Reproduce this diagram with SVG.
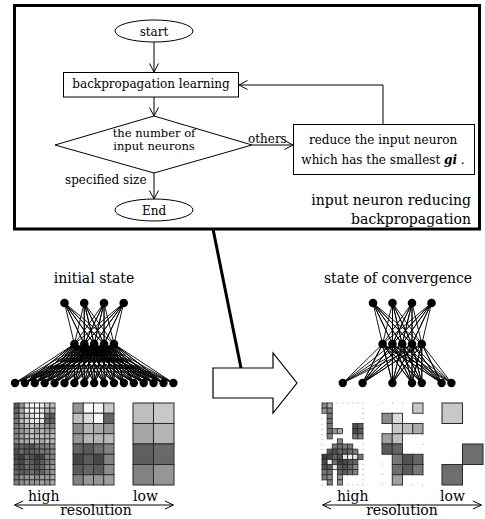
<svg xmlns="http://www.w3.org/2000/svg" width="485" height="519" viewBox="0 0 485 519">
<style>
text{font-family:"DejaVu Serif","Liberation Serif",serif;fill:#000}
.fc{font-size:12px}
.dt{font-size:11.5px}
.lb{font-size:14px}
.ln{fill:none;stroke:#000;stroke-width:1}
.net{fill:none;stroke:#000;stroke-width:0.9;stroke-linejoin:round}
.g1 rect{stroke:#2a2a2a;stroke-width:0.16}
.g2 rect{stroke:#2a2a2a;stroke-width:0.09}
.g3 rect{stroke:#2a2a2a;stroke-width:0.05}
.dot{fill:none;stroke:#888;stroke-width:0.9}
</style>
<defs>
<marker id="ah" viewBox="0 0 10 10" refX="9.5" refY="5" markerWidth="10" markerHeight="10" markerUnits="userSpaceOnUse" orient="auto">
<path d="M1,0.5 L9.5,5 L1,9.5" fill="none" stroke="#000" stroke-width="1"/>
</marker>
</defs>

<g id="frame">
<rect x="14.5" y="5.5" width="465" height="223.5" fill="#fff" stroke="#000" stroke-width="3"/>
</g>

<g id="start"><ellipse cx="154" cy="31" rx="39" ry="11" fill="#fff" stroke="#000"/><text class="fc" x="154" y="36" text-anchor="middle" font-size="13">start</text></g>
<g id="bp"><rect x="63.5" y="72.5" width="175" height="24.5" fill="#fff" stroke="#000"/><text class="fc" x="151" y="88" text-anchor="middle">backpropagation learning</text></g>
<g id="dec"><polygon points="154,116 252,145 154,173 55,145" fill="#fff" stroke="#000"/><text class="dt" x="154" y="137" text-anchor="middle">the number of</text><text class="dt" x="154" y="149.5" text-anchor="middle">input neurons</text></g>
<g id="reduce"><rect x="293.5" y="124.5" width="181" height="50" fill="#fff" stroke="#000"/><text class="fc" x="383" y="144" text-anchor="middle">reduce the input neuron</text><text class="fc" x="383" y="164" text-anchor="middle">which has the smallest <tspan font-weight="bold" font-style="italic">gi</tspan> .</text></g>
<g id="end"><ellipse cx="154" cy="210" rx="39" ry="11" fill="#fff" stroke="#000"/><text class="fc" x="154" y="215" text-anchor="middle" font-size="13">End</text></g>
<g id="title"><text class="lb" x="471" y="205" text-anchor="end">input neuron reducing</text><text class="lb" x="471" y="224" text-anchor="end">backpropagation</text></g>

<g id="connectors">
<line class="ln" x1="154" y1="42" x2="154" y2="72" marker-end="url(#ah)"/>
<line class="ln" x1="154" y1="97" x2="154" y2="116" marker-end="url(#ah)"/>
<line class="ln" x1="154" y1="173" x2="154" y2="199" marker-end="url(#ah)"/>
<line class="ln" x1="252" y1="145" x2="293" y2="145" marker-end="url(#ah)"/>
<polyline class="ln" points="383,124 383,85 239,85" marker-end="url(#ah)"/>
<text class="fc" x="248" y="143">others</text>
<text class="fc" x="65" y="184">specified size</text>
<line x1="213" y1="229" x2="241" y2="368" stroke="#000" stroke-width="3"/>
</g>

<g id="bigarrow"><polygon points="213,368 273,368 273,353 297,383 273,413 273,398 213,398" fill="#fff" stroke="#000" stroke-width="1.2"/></g>

<g id="initial">
<text class="lb" x="94" y="283" text-anchor="middle">initial state</text>
<path class="net" d="M74.4 344L64.5 303L84.3 344L64.5 303L94.2 344L64.5 303L104.1 344L64.5 303L114 344
M74.4 344L84.2 303L84.3 344L84.2 303L94.2 344L84.2 303L104.1 344L84.2 303L114 344
M74.4 344L104 303L84.3 344L104 303L94.2 344L104 303L104.1 344L104 303L114 344
M74.4 344L123.7 303L84.3 344L123.7 303L94.2 344L123.7 303L104.1 344L123.7 303L114 344
M15 383L74.4 344L24.9 383L74.4 344L34.8 383L74.4 344L44.7 383L74.4 344L54.6 383L74.4 344L64.5 383L74.4 344L74.4 383L74.4 344L84.3 383L74.4 344L94.2 383L74.4 344L104.1 383L74.4 344L114 383L74.4 344L123.9 383L74.4 344L133.8 383L74.4 344L143.7 383L74.4 344L153.6 383L74.4 344L163.5 383L74.4 344L173.4 383
M15 383L84.3 344L24.9 383L84.3 344L34.8 383L84.3 344L44.7 383L84.3 344L54.6 383L84.3 344L64.5 383L84.3 344L74.4 383L84.3 344L84.3 383L84.3 344L94.2 383L84.3 344L104.1 383L84.3 344L114 383L84.3 344L123.9 383L84.3 344L133.8 383L84.3 344L143.7 383L84.3 344L153.6 383L84.3 344L163.5 383L84.3 344L173.4 383
M15 383L94.2 344L24.9 383L94.2 344L34.8 383L94.2 344L44.7 383L94.2 344L54.6 383L94.2 344L64.5 383L94.2 344L74.4 383L94.2 344L84.3 383L94.2 344L94.2 383L94.2 344L104.1 383L94.2 344L114 383L94.2 344L123.9 383L94.2 344L133.8 383L94.2 344L143.7 383L94.2 344L153.6 383L94.2 344L163.5 383L94.2 344L173.4 383
M15 383L104.1 344L24.9 383L104.1 344L34.8 383L104.1 344L44.7 383L104.1 344L54.6 383L104.1 344L64.5 383L104.1 344L74.4 383L104.1 344L84.3 383L104.1 344L94.2 383L104.1 344L104.1 383L104.1 344L114 383L104.1 344L123.9 383L104.1 344L133.8 383L104.1 344L143.7 383L104.1 344L153.6 383L104.1 344L163.5 383L104.1 344L173.4 383
M15 383L114 344L24.9 383L114 344L34.8 383L114 344L44.7 383L114 344L54.6 383L114 344L64.5 383L114 344L74.4 383L114 344L84.3 383L114 344L94.2 383L114 344L104.1 383L114 344L114 383L114 344L123.9 383L114 344L133.8 383L114 344L143.7 383L114 344L153.6 383L114 344L163.5 383L114 344L173.4 383"/>
<g fill="#000">
<circle cx="64.5" cy="303" r="4.3"/><circle cx="84.2" cy="303" r="4.3"/><circle cx="104" cy="303" r="4.3"/><circle cx="123.7" cy="303" r="4.3"/>
<circle cx="74.4" cy="344" r="4.3"/><circle cx="84.3" cy="344" r="4.3"/><circle cx="94.2" cy="344" r="4.3"/><circle cx="104.1" cy="344" r="4.3"/><circle cx="114" cy="344" r="4.3"/>
<circle cx="15" cy="383" r="4.2"/><circle cx="24.9" cy="383" r="4.2"/><circle cx="34.8" cy="383" r="4.2"/><circle cx="44.7" cy="383" r="4.2"/><circle cx="54.6" cy="383" r="4.2"/><circle cx="64.5" cy="383" r="4.2"/><circle cx="74.4" cy="383" r="4.2"/><circle cx="84.3" cy="383" r="4.2"/><circle cx="94.2" cy="383" r="4.2"/><circle cx="104.1" cy="383" r="4.2"/><circle cx="114" cy="383" r="4.2"/><circle cx="123.9" cy="383" r="4.2"/><circle cx="133.8" cy="383" r="4.2"/><circle cx="143.7" cy="383" r="4.2"/><circle cx="153.6" cy="383" r="4.2"/><circle cx="163.5" cy="383" r="4.2"/><circle cx="173.4" cy="383" r="4.2"/>
</g>
</g>

<g id="convergence">
<text class="lb" x="398" y="283" text-anchor="middle">state of convergence</text>
<path class="net" d="M382.6 344L373 303L392.4 344L373 303L402.2 344L373 303L412 344L373 303L421.8 344
M382.6 344L392.5 303L392.4 344L392.5 303L402.2 344L392.5 303L412 344L392.5 303L421.8 344
M382.6 344L412 303L392.4 344L412 303L402.2 344L412 303L412 344L412 303L421.8 344
M382.6 344L431.5 303L392.4 344L431.5 303L402.2 344L431.5 303L412 344L431.5 303L421.8 344
M342.8 383L382.6 344L362.6 383L382.6 344L392.4 383L382.6 344L412 383L382.6 344L421.8 383L382.6 344L441.6 383L382.6 344L451.4 383
M342.8 383L392.4 344L362.6 383L392.4 344L392.4 383L392.4 344L412 383L392.4 344L421.8 383L392.4 344L441.6 383L392.4 344L451.4 383
M342.8 383L402.2 344L362.6 383L402.2 344L392.4 383L402.2 344L412 383L402.2 344L421.8 383L402.2 344L441.6 383L402.2 344L451.4 383
M342.8 383L412 344L362.6 383L412 344L392.4 383L412 344L412 383L412 344L421.8 383L412 344L441.6 383L412 344L451.4 383
M342.8 383L421.8 344L362.6 383L421.8 344L392.4 383L421.8 344L412 383L421.8 344L421.8 383L421.8 344L441.6 383L421.8 344L451.4 383"/>
<g fill="#000">
<circle cx="373" cy="303" r="4.3"/><circle cx="392.5" cy="303" r="4.3"/><circle cx="412" cy="303" r="4.3"/><circle cx="431.5" cy="303" r="4.3"/>
<circle cx="382.6" cy="344" r="4.3"/><circle cx="392.4" cy="344" r="4.3"/><circle cx="402.2" cy="344" r="4.3"/><circle cx="412" cy="344" r="4.3"/><circle cx="421.8" cy="344" r="4.3"/>
<circle cx="342.8" cy="383" r="4.2"/><circle cx="362.6" cy="383" r="4.2"/><circle cx="392.4" cy="383" r="4.2"/><circle cx="412" cy="383" r="4.2"/><circle cx="421.8" cy="383" r="4.2"/><circle cx="441.6" cy="383" r="4.2"/><circle cx="451.4" cy="383" r="4.2"/>
</g>
</g>

<g id="grid-left-high" class="g1" transform="translate(14,403) scale(5.125)">
<rect x="0" y="0" width="1" height="1" fill="#5a5a5a"/><rect x="1" y="0" width="1" height="1" fill="#969696"/><rect x="2" y="0" width="1" height="1" fill="#e6e6e6"/><rect x="3" y="0" width="1" height="1" fill="#fafafa"/><rect x="4" y="0" width="1" height="1" fill="#fafafa"/><rect x="5" y="0" width="1" height="1" fill="#f0f0f0"/><rect x="6" y="0" width="1" height="1" fill="#c8c8c8"/><rect x="7" y="0" width="1" height="1" fill="#bebebe"/>
<rect x="0" y="1" width="1" height="1" fill="#646464"/><rect x="1" y="1" width="1" height="1" fill="#aaaaaa"/><rect x="2" y="1" width="1" height="1" fill="#f0f0f0"/><rect x="3" y="1" width="1" height="1" fill="#ffffff"/><rect x="4" y="1" width="1" height="1" fill="#f5f5f5"/><rect x="5" y="1" width="1" height="1" fill="#e6e6e6"/><rect x="6" y="1" width="1" height="1" fill="#b4b4b4"/><rect x="7" y="1" width="1" height="1" fill="#aaaaaa"/>
<rect x="0" y="2" width="1" height="1" fill="#6e6e6e"/><rect x="1" y="2" width="1" height="1" fill="#aaaaaa"/><rect x="2" y="2" width="1" height="1" fill="#c8c8c8"/><rect x="3" y="2" width="1" height="1" fill="#dcdcdc"/><rect x="4" y="2" width="1" height="1" fill="#fafafa"/><rect x="5" y="2" width="1" height="1" fill="#f0f0f0"/><rect x="6" y="2" width="1" height="1" fill="#6e6e6e"/><rect x="7" y="2" width="1" height="1" fill="#5a5a5a"/>
<rect x="0" y="3" width="1" height="1" fill="#787878"/><rect x="1" y="3" width="1" height="1" fill="#b4b4b4"/><rect x="2" y="3" width="1" height="1" fill="#d2d2d2"/><rect x="3" y="3" width="1" height="1" fill="#e6e6e6"/><rect x="4" y="3" width="1" height="1" fill="#f0f0f0"/><rect x="5" y="3" width="1" height="1" fill="#e6e6e6"/><rect x="6" y="3" width="1" height="1" fill="#646464"/><rect x="7" y="3" width="1" height="1" fill="#646464"/>
<rect x="0" y="4" width="1" height="1" fill="#787878"/><rect x="1" y="4" width="1" height="1" fill="#969696"/><rect x="2" y="4" width="1" height="1" fill="#b4b4b4"/><rect x="3" y="4" width="1" height="1" fill="#bebebe"/><rect x="4" y="4" width="1" height="1" fill="#aaaaaa"/><rect x="5" y="4" width="1" height="1" fill="#aaaaaa"/><rect x="6" y="4" width="1" height="1" fill="#8c8c8c"/><rect x="7" y="4" width="1" height="1" fill="#828282"/>
<rect x="0" y="5" width="1" height="1" fill="#828282"/><rect x="1" y="5" width="1" height="1" fill="#969696"/><rect x="2" y="5" width="1" height="1" fill="#aaaaaa"/><rect x="3" y="5" width="1" height="1" fill="#bebebe"/><rect x="4" y="5" width="1" height="1" fill="#a0a0a0"/><rect x="5" y="5" width="1" height="1" fill="#b4b4b4"/><rect x="6" y="5" width="1" height="1" fill="#a0a0a0"/><rect x="7" y="5" width="1" height="1" fill="#a0a0a0"/>
<rect x="0" y="6" width="1" height="1" fill="#828282"/><rect x="1" y="6" width="1" height="1" fill="#a0a0a0"/><rect x="2" y="6" width="1" height="1" fill="#b4b4b4"/><rect x="3" y="6" width="1" height="1" fill="#bebebe"/><rect x="4" y="6" width="1" height="1" fill="#b4b4b4"/><rect x="5" y="6" width="1" height="1" fill="#bebebe"/><rect x="6" y="6" width="1" height="1" fill="#b4b4b4"/><rect x="7" y="6" width="1" height="1" fill="#bebebe"/>
<rect x="0" y="7" width="1" height="1" fill="#8c8c8c"/><rect x="1" y="7" width="1" height="1" fill="#aaaaaa"/><rect x="2" y="7" width="1" height="1" fill="#aaaaaa"/><rect x="3" y="7" width="1" height="1" fill="#bebebe"/><rect x="4" y="7" width="1" height="1" fill="#b4b4b4"/><rect x="5" y="7" width="1" height="1" fill="#aaaaaa"/><rect x="6" y="7" width="1" height="1" fill="#bebebe"/><rect x="7" y="7" width="1" height="1" fill="#b4b4b4"/>
<rect x="0" y="8" width="1" height="1" fill="#5a5a5a"/><rect x="1" y="8" width="1" height="1" fill="#646464"/><rect x="2" y="8" width="1" height="1" fill="#5a5a5a"/><rect x="3" y="8" width="1" height="1" fill="#505050"/><rect x="4" y="8" width="1" height="1" fill="#6e6e6e"/><rect x="5" y="8" width="1" height="1" fill="#787878"/><rect x="6" y="8" width="1" height="1" fill="#828282"/><rect x="7" y="8" width="1" height="1" fill="#8c8c8c"/>
<rect x="0" y="9" width="1" height="1" fill="#505050"/><rect x="1" y="9" width="1" height="1" fill="#6e6e6e"/><rect x="2" y="9" width="1" height="1" fill="#5a5a5a"/><rect x="3" y="9" width="1" height="1" fill="#646464"/><rect x="4" y="9" width="1" height="1" fill="#646464"/><rect x="5" y="9" width="1" height="1" fill="#787878"/><rect x="6" y="9" width="1" height="1" fill="#787878"/><rect x="7" y="9" width="1" height="1" fill="#8c8c8c"/>
<rect x="0" y="10" width="1" height="1" fill="#464646"/><rect x="1" y="10" width="1" height="1" fill="#3c3c3c"/><rect x="2" y="10" width="1" height="1" fill="#646464"/><rect x="3" y="10" width="1" height="1" fill="#505050"/><rect x="4" y="10" width="1" height="1" fill="#3c3c3c"/><rect x="5" y="10" width="1" height="1" fill="#464646"/><rect x="6" y="10" width="1" height="1" fill="#828282"/><rect x="7" y="10" width="1" height="1" fill="#828282"/>
<rect x="0" y="11" width="1" height="1" fill="#505050"/><rect x="1" y="11" width="1" height="1" fill="#464646"/><rect x="2" y="11" width="1" height="1" fill="#6e6e6e"/><rect x="3" y="11" width="1" height="1" fill="#5a5a5a"/><rect x="4" y="11" width="1" height="1" fill="#464646"/><rect x="5" y="11" width="1" height="1" fill="#5a5a5a"/><rect x="6" y="11" width="1" height="1" fill="#787878"/><rect x="7" y="11" width="1" height="1" fill="#8c8c8c"/>
<rect x="0" y="12" width="1" height="1" fill="#5a5a5a"/><rect x="1" y="12" width="1" height="1" fill="#505050"/><rect x="2" y="12" width="1" height="1" fill="#6e6e6e"/><rect x="3" y="12" width="1" height="1" fill="#646464"/><rect x="4" y="12" width="1" height="1" fill="#505050"/><rect x="5" y="12" width="1" height="1" fill="#646464"/><rect x="6" y="12" width="1" height="1" fill="#8c8c8c"/><rect x="7" y="12" width="1" height="1" fill="#969696"/>
<rect x="0" y="13" width="1" height="1" fill="#646464"/><rect x="1" y="13" width="1" height="1" fill="#5a5a5a"/><rect x="2" y="13" width="1" height="1" fill="#646464"/><rect x="3" y="13" width="1" height="1" fill="#6e6e6e"/><rect x="4" y="13" width="1" height="1" fill="#5a5a5a"/><rect x="5" y="13" width="1" height="1" fill="#646464"/><rect x="6" y="13" width="1" height="1" fill="#828282"/><rect x="7" y="13" width="1" height="1" fill="#969696"/>
<rect x="0" y="14" width="1" height="1" fill="#787878"/><rect x="1" y="14" width="1" height="1" fill="#8c8c8c"/><rect x="2" y="14" width="1" height="1" fill="#969696"/><rect x="3" y="14" width="1" height="1" fill="#a0a0a0"/><rect x="4" y="14" width="1" height="1" fill="#8c8c8c"/><rect x="5" y="14" width="1" height="1" fill="#a0a0a0"/><rect x="6" y="14" width="1" height="1" fill="#a0a0a0"/><rect x="7" y="14" width="1" height="1" fill="#aaaaaa"/>
<rect x="0" y="15" width="1" height="1" fill="#828282"/><rect x="1" y="15" width="1" height="1" fill="#8c8c8c"/><rect x="2" y="15" width="1" height="1" fill="#969696"/><rect x="3" y="15" width="1" height="1" fill="#969696"/><rect x="4" y="15" width="1" height="1" fill="#969696"/><rect x="5" y="15" width="1" height="1" fill="#a0a0a0"/><rect x="6" y="15" width="1" height="1" fill="#969696"/><rect x="7" y="15" width="1" height="1" fill="#aaaaaa"/>
</g>

<g id="grid-left-mid" class="g2" transform="translate(73,403) scale(10.25)">
<rect x="0" y="0" width="1" height="1" fill="#969696"/><rect x="1" y="0" width="1" height="1" fill="#fafafa"/><rect x="2" y="0" width="1" height="1" fill="#f5f5f5"/><rect x="3" y="0" width="1" height="1" fill="#c8c8c8"/>
<rect x="0" y="1" width="1" height="1" fill="#bebebe"/><rect x="1" y="1" width="1" height="1" fill="#dcdcdc"/><rect x="2" y="1" width="1" height="1" fill="#fafafa"/><rect x="3" y="1" width="1" height="1" fill="#646464"/>
<rect x="0" y="2" width="1" height="1" fill="#8c8c8c"/><rect x="1" y="2" width="1" height="1" fill="#b4b4b4"/><rect x="2" y="2" width="1" height="1" fill="#aaaaaa"/><rect x="3" y="2" width="1" height="1" fill="#969696"/>
<rect x="0" y="3" width="1" height="1" fill="#969696"/><rect x="1" y="3" width="1" height="1" fill="#b4b4b4"/><rect x="2" y="3" width="1" height="1" fill="#b4b4b4"/><rect x="3" y="3" width="1" height="1" fill="#b9b9b9"/>
<rect x="0" y="4" width="1" height="1" fill="#646464"/><rect x="1" y="4" width="1" height="1" fill="#5a5a5a"/><rect x="2" y="4" width="1" height="1" fill="#6e6e6e"/><rect x="3" y="4" width="1" height="1" fill="#828282"/>
<rect x="0" y="5" width="1" height="1" fill="#464646"/><rect x="1" y="5" width="1" height="1" fill="#5a5a5a"/><rect x="2" y="5" width="1" height="1" fill="#464646"/><rect x="3" y="5" width="1" height="1" fill="#828282"/>
<rect x="0" y="6" width="1" height="1" fill="#5a5a5a"/><rect x="1" y="6" width="1" height="1" fill="#646464"/><rect x="2" y="6" width="1" height="1" fill="#5a5a5a"/><rect x="3" y="6" width="1" height="1" fill="#8c8c8c"/>
<rect x="0" y="7" width="1" height="1" fill="#828282"/><rect x="1" y="7" width="1" height="1" fill="#969696"/><rect x="2" y="7" width="1" height="1" fill="#969696"/><rect x="3" y="7" width="1" height="1" fill="#a0a0a0"/>
</g>

<g id="grid-left-low" class="g3" transform="translate(133,403) scale(20.5)">
<rect x="0" y="0" width="1" height="1" fill="#bebebe"/><rect x="1" y="0" width="1" height="1" fill="#c8c8c8"/>
<rect x="0" y="1" width="1" height="1" fill="#a5a5a5"/><rect x="1" y="1" width="1" height="1" fill="#b4b4b4"/>
<rect x="0" y="2" width="1" height="1" fill="#5f5f5f"/><rect x="1" y="2" width="1" height="1" fill="#696969"/>
<rect x="0" y="3" width="1" height="1" fill="#828282"/><rect x="1" y="3" width="1" height="1" fill="#969696"/>
</g>

<g id="grid-right-high">
<rect class="dot" x="322" y="403" width="41" height="82" stroke-dasharray="0.9 4.2"/>
<g class="g1" transform="translate(322,403) scale(5.125)">
<rect x="0" y="0" width="1" height="1" fill="#8c8c8c"/><rect x="1" y="0" width="1" height="1" fill="#aaaaaa"/>
<rect x="0" y="1" width="1" height="1" fill="#969696"/><rect x="1" y="1" width="1" height="1" fill="#828282"/>
<rect x="1" y="2" width="1" height="1" fill="#787878"/>
<rect x="1" y="3" width="1" height="1" fill="#6e6e6e"/>
<rect x="1" y="4" width="1" height="1" fill="#787878"/><rect x="6" y="4" width="1" height="1" fill="#505050"/><rect x="7" y="4" width="1" height="1" fill="#646464"/>
<rect x="1" y="5" width="1" height="1" fill="#6e6e6e"/><rect x="2" y="5" width="1" height="1" fill="#969696"/><rect x="3" y="5" width="1" height="1" fill="#aaaaaa"/><rect x="6" y="5" width="1" height="1" fill="#464646"/><rect x="7" y="5" width="1" height="1" fill="#5a5a5a"/>
<rect x="1" y="6" width="1" height="1" fill="#828282"/><rect x="6" y="6" width="1" height="1" fill="#787878"/><rect x="7" y="6" width="1" height="1" fill="#828282"/>
<rect x="3" y="7" width="1" height="1" fill="#8c8c8c"/>
<rect x="2" y="8" width="1" height="1" fill="#787878"/><rect x="3" y="8" width="1" height="1" fill="#6e6e6e"/><rect x="4" y="8" width="1" height="1" fill="#828282"/><rect x="5" y="8" width="1" height="1" fill="#787878"/>
<rect x="1" y="9" width="1" height="1" fill="#5a5a5a"/><rect x="2" y="9" width="1" height="1" fill="#505050"/><rect x="3" y="9" width="1" height="1" fill="#646464"/><rect x="4" y="9" width="1" height="1" fill="#5a5a5a"/><rect x="5" y="9" width="1" height="1" fill="#6e6e6e"/><rect x="6" y="9" width="1" height="1" fill="#787878"/>
<rect x="0" y="10" width="1" height="1" fill="#3c3c3c"/><rect x="1" y="10" width="1" height="1" fill="#464646"/><rect x="2" y="10" width="1" height="1" fill="#646464"/><rect x="3" y="10" width="1" height="1" fill="#505050"/><rect x="4" y="10" width="1" height="1" fill="#e6e6e6"/><rect x="5" y="10" width="1" height="1" fill="#f0f0f0"/><rect x="6" y="10" width="1" height="1" fill="#e6e6e6"/><rect x="7" y="10" width="1" height="1" fill="#787878"/>
<rect x="0" y="11" width="1" height="1" fill="#464646"/><rect x="1" y="11" width="1" height="1" fill="#f0f0f0"/><rect x="2" y="11" width="1" height="1" fill="#6e6e6e"/><rect x="3" y="11" width="1" height="1" fill="#3c3c3c"/><rect x="4" y="11" width="1" height="1" fill="#464646"/><rect x="5" y="11" width="1" height="1" fill="#5a5a5a"/><rect x="6" y="11" width="1" height="1" fill="#646464"/>
<rect x="0" y="12" width="1" height="1" fill="#505050"/><rect x="1" y="12" width="1" height="1" fill="#5a5a5a"/><rect x="2" y="12" width="1" height="1" fill="#e6e6e6"/><rect x="3" y="12" width="1" height="1" fill="#5a5a5a"/><rect x="4" y="12" width="1" height="1" fill="#505050"/><rect x="5" y="12" width="1" height="1" fill="#646464"/><rect x="6" y="12" width="1" height="1" fill="#8c8c8c"/>
<rect x="0" y="13" width="1" height="1" fill="#787878"/><rect x="1" y="13" width="1" height="1" fill="#6e6e6e"/><rect x="3" y="13" width="1" height="1" fill="#646464"/><rect x="4" y="13" width="1" height="1" fill="#5a5a5a"/><rect x="5" y="13" width="1" height="1" fill="#6e6e6e"/><rect x="6" y="13" width="1" height="1" fill="#828282"/>
<rect x="0" y="14" width="1" height="1" fill="#787878"/><rect x="1" y="14" width="1" height="1" fill="#8c8c8c"/><rect x="3" y="14" width="1" height="1" fill="#969696"/>
<rect x="1" y="15" width="1" height="1" fill="#828282"/><rect x="3" y="15" width="1" height="1" fill="#969696"/>
</g>
</g>

<g id="grid-right-mid">
<rect class="dot" x="382" y="403" width="41" height="82" stroke-dasharray="0.9 9.35"/>
<g class="g2" transform="translate(382,403) scale(10.25)">
<rect x="3" y="0" width="1" height="1" fill="#c8c8c8"/>
<rect x="0" y="1" width="1" height="1" fill="#8c8c8c"/><rect x="1" y="1" width="1" height="1" fill="#dcdcdc"/>
<rect x="1" y="2" width="1" height="1" fill="#c8c8c8"/><rect x="2" y="2" width="1" height="1" fill="#bebebe"/><rect x="3" y="2" width="1" height="1" fill="#aaaaaa"/>
<rect x="0" y="3" width="1" height="1" fill="#a0a0a0"/><rect x="1" y="3" width="1" height="1" fill="#bebebe"/>
<rect x="0" y="4" width="1" height="1" fill="#5a5a5a"/><rect x="1" y="4" width="1" height="1" fill="#646464"/>
<rect x="1" y="5" width="1" height="1" fill="#787878"/><rect x="2" y="5" width="1" height="1" fill="#505050"/><rect x="3" y="5" width="1" height="1" fill="#646464"/>
<rect x="1" y="6" width="1" height="1" fill="#6e6e6e"/><rect x="2" y="6" width="1" height="1" fill="#5a5a5a"/><rect x="3" y="6" width="1" height="1" fill="#787878"/>
<rect x="1" y="7" width="1" height="1" fill="#a0a0a0"/>
</g>
</g>

<g id="grid-right-low" class="g3" transform="translate(442,403) scale(20.5)">
<rect x="0" y="0" width="1" height="1" fill="#c8c8c8"/>
<rect x="1" y="2" width="1" height="1" fill="#6e6e6e"/>
<rect x="0" y="3" width="1" height="1" fill="#6e6e6e"/>
</g>

<g id="res-left">
<line class="ln" x1="15" y1="505" x2="173" y2="505"/>
<path class="ln" d="M23 501L14.5 505L23 509M165 501L173.5 505L165 509"/>
<text class="lb" x="28" y="501">high</text>
<text class="lb" x="133" y="501">low</text>
<text class="lb" x="96" y="515" text-anchor="middle">resolution</text>
</g>
<g id="res-right">
<line class="ln" x1="323" y1="505" x2="481" y2="505"/>
<path class="ln" d="M331 501L322.5 505L331 509M473 501L481.5 505L473 509"/>
<text class="lb" x="337" y="501">high</text>
<text class="lb" x="440" y="501">low</text>
<text class="lb" x="402" y="515" text-anchor="middle">resolution</text>
</g>
</svg>
